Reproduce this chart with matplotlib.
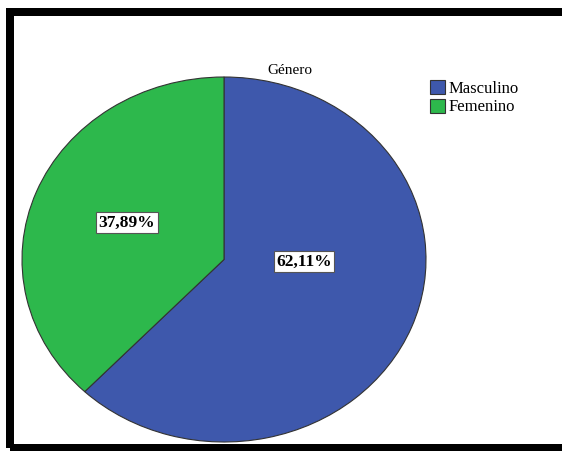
import matplotlib
matplotlib.use("Agg")
import matplotlib.pyplot as plt
from matplotlib.patches import Rectangle

categories = ["Masculino", "Femenino"]
values = [62.11, 37.89]
labels_pct = ["62,11%", "37,89%"]
colors = ["#3E58AC", "#2DB84C"]
title = "Género"

W, H = 562, 451
fig = plt.figure(figsize=(W / 100, H / 100), dpi=100)
plt.rcParams['font.family'] = ['Liberation Serif', 'DejaVu Serif']

# pie axes: ellipse x 22..426, y 77..442 (pixels from top)
ax = fig.add_axes([22 / W, (H - 442) / H, 404 / W, 365 / H])
wedges, _ = ax.pie(values, colors=colors, startangle=90, counterclock=False,
                   wedgeprops=dict(edgecolor="#333333", linewidth=0.8))
ax.set_aspect('auto')
ax.set_xlim(-1, 1)
ax.set_ylim(-1, 1)
ax.axis('off')

box = dict(boxstyle="square,pad=0.15", facecolor="white", edgecolor="#555555", linewidth=0.8)
ax.text(0.396, -0.011, labels_pct[0], ha='center', va='center', fontsize=12.5,
        fontweight='bold', bbox=box)
ax.text(-0.48, 0.203, labels_pct[1], ha='center', va='center', fontsize=12.5,
        fontweight='bold', bbox=box)

fig.text(290 / W, 1 - 70 / H, title, ha='center', va='center', fontsize=11)

leg = fig.legend(wedges, categories, loc='upper left',
                 bbox_to_anchor=(427 / W, 1 - 77 / H), frameon=False,
                 fontsize=12, handlelength=0.9, handleheight=0.9,
                 handletextpad=0.2, labelspacing=0.1, borderpad=0.2,
                 borderaxespad=0)

# thick black border (right side extends beyond the image)
fig.patches.append(Rectangle((10 / W, 3 / H), (580 - 10) / W, (439 - 3) / H,
                             transform=fig.transFigure, fill=False,
                             edgecolor='black', linewidth=8 * 72 / 100))

fig.savefig("out.png", dpi=100)
